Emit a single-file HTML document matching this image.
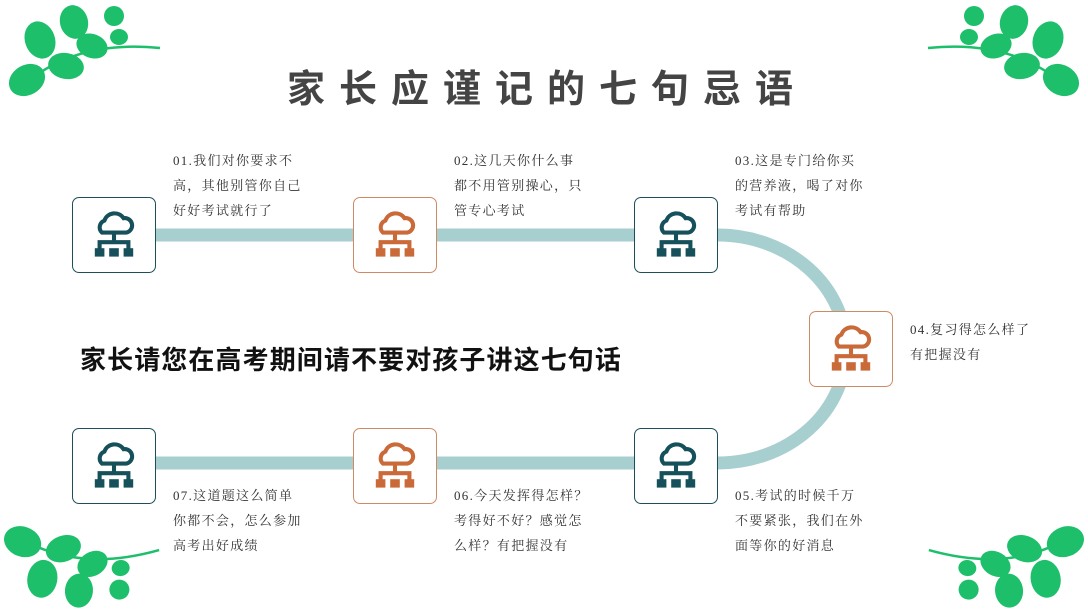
<!DOCTYPE html>
<html><head><meta charset="utf-8"><style>
body{margin:0;width:1088px;height:612px;background:#fff;position:relative;overflow:hidden;font-family:"Liberation Serif","Noto Serif CJK SC",serif}
.t{position:absolute;font-size:13px;line-height:25px;color:#333;letter-spacing:1.3px;white-space:nowrap}
.box{position:absolute;width:82px;height:74px;border:1.2px solid;border-radius:7px;background:#fff;display:flex;align-items:center;justify-content:center}
.g{border-color:#1d4f5a;color:#15505b}.o{border-color:#d08a63;color:#c96a38}
h1{position:absolute;left:287px;top:58px;margin:0;font-family:"Liberation Sans","Noto Sans CJK SC",sans-serif;font-size:38px;font-weight:bold;letter-spacing:14px;color:#444;white-space:nowrap}
.sub{position:absolute;left:80px;top:340px;font-family:"Liberation Sans","Noto Sans CJK SC",sans-serif;font-size:26px;font-weight:bold;color:#111;white-space:nowrap;letter-spacing:1.1px}
</style></head><body>
<svg width="1088" height="612" style="position:absolute;left:0;top:0">
<defs>
<g id="clover" fill="#1dbf6a">
<path d="M30 80 Q80 40 160 48" stroke="#1dbf6a" stroke-width="2.5" fill="none"/>
<ellipse cx="40" cy="40" rx="15" ry="19" transform="rotate(-20 40 40)"/>
<ellipse cx="66" cy="66" rx="18" ry="13" transform="rotate(10 66 66)"/>
<ellipse cx="27" cy="80" rx="19" ry="15" transform="rotate(-30 27 80)"/>
<ellipse cx="74" cy="22" rx="14" ry="17" transform="rotate(-15 74 22)"/>
<ellipse cx="92" cy="46" rx="16" ry="12" transform="rotate(20 92 46)"/>
<ellipse cx="114" cy="16" rx="10" ry="10"/>
<ellipse cx="119" cy="37" rx="9" ry="8"/>
</g>
<g id="ic" fill="none" stroke="currentColor" stroke-width="3.4">
<path d="M-10 0 a6 6 0 0 1 2 -10 a9 9 0 0 1 16 -2 a6 6 0 0 1 2 12 z"/>
<path d="M0 0 v8 M-12 14 v-6 h24 v6"/>
<g fill="currentColor" stroke="none"><rect x="-16" y="13" width="8" height="7"/><rect x="-4" y="13" width="8" height="7"/><rect x="8" y="13" width="8" height="7"/></g>
</g>
</defs>
<use href="#clover"/>
<use href="#clover" transform="translate(1088,0) scale(-1,1)"/>
<use href="#clover" transform="translate(0,612) scale(1,-1) rotate(10 80 50)"/>
<use href="#clover" transform="translate(1088,612) scale(-1,-1) rotate(10 80 50)"/>
<g stroke="#a8cfd0" stroke-width="13" fill="none">
<path d="M150 235 H718 A128 114 0 0 1 718 463 H150"/>
</g>
</svg>
<h1>家长应谨记的七句忌语</h1>
<div class="sub">家长请您在高考期间请不要对孩子讲这七句话</div>
<div class="box g" style="left:72px;top:197px"><svg width="48" height="48" viewBox="-20 -18 40 40"><use href="#ic"/></svg></div>
<div class="box o" style="left:353px;top:197px"><svg width="48" height="48" viewBox="-20 -18 40 40"><use href="#ic"/></svg></div>
<div class="box g" style="left:634px;top:197px"><svg width="48" height="48" viewBox="-20 -18 40 40"><use href="#ic"/></svg></div>
<div class="box o" style="left:809px;top:311px"><svg width="48" height="48" viewBox="-20 -18 40 40"><use href="#ic"/></svg></div>
<div class="box g" style="left:634px;top:428px"><svg width="48" height="48" viewBox="-20 -18 40 40"><use href="#ic"/></svg></div>
<div class="box o" style="left:353px;top:428px"><svg width="48" height="48" viewBox="-20 -18 40 40"><use href="#ic"/></svg></div>
<div class="box g" style="left:72px;top:428px"><svg width="48" height="48" viewBox="-20 -18 40 40"><use href="#ic"/></svg></div>
<div class="t" style="left:173px;top:148px">01.我们对你要求不<br>高，其他别管你自己<br>好好考试就行了</div>
<div class="t" style="left:454px;top:148px">02.这几天你什么事<br>都不用管别操心，只<br>管专心考试</div>
<div class="t" style="left:735px;top:148px">03.这是专门给你买<br>的营养液，喝了对你<br>考试有帮助</div>
<div class="t" style="left:910px;top:317px">04.复习得怎么样了<br>有把握没有</div>
<div class="t" style="left:735px;top:483px">05.考试的时候千万<br>不要紧张，我们在外<br>面等你的好消息</div>
<div class="t" style="left:454px;top:483px">06.今天发挥得怎样？<br>考得好不好？感觉怎<br>么样？有把握没有</div>
<div class="t" style="left:173px;top:483px">07.这道题这么简单<br>你都不会，怎么参加<br>高考出好成绩</div>
</body></html>
